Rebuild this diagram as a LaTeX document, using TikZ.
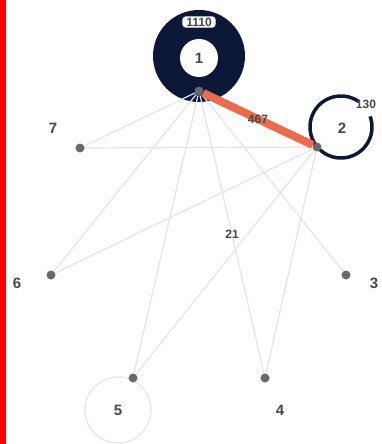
\documentclass[tikz,border=0pt]{standalone}
\usepackage{fontspec}
\setmainfont{Liberation Sans}
\usetikzlibrary{positioning, backgrounds}
\definecolor{RingNavy}{RGB}{12,24,56}
\definecolor{EdgeOrange}{RGB}{238,106,76}
\definecolor{EdgeGrey}{RGB}{228,228,228}
\definecolor{DotGrey}{RGB}{105,105,105}
\definecolor{LabelGrey}{RGB}{70,70,70}

\begin{document}
\begin{tikzpicture}[x=1pt, y=-1pt, font=\bfseries\fontsize{15}{17}\selectfont,
    dot/.style={circle, fill=DotGrey, inner sep=0pt, minimum size=9pt},
    lbl/.style={text=LabelGrey, inner sep=1pt},
    wlbl/.style={text=LabelGrey, font=\bfseries\fontsize{12}{14}\selectfont, inner sep=1pt},
    edge/.style={EdgeGrey, line width=1.2pt}]
    \useasboundingbox (0,0) rectangle (381,444);
    \fill[red] (0,0) rectangle (6,444);

    % --- Nodes ---
    \node[dot] (n1) at (199,91) {};
    \node[dot] (n2) at (317,147) {};
    \node[dot] (n3) at (346,275) {};
    \node[dot] (n4) at (265,378) {};
    \node[dot] (n5) at (133,378) {};
    \node[dot] (n6) at (51,275) {};
    \node[dot] (n7) at (80,148) {};

    % --- Labels ---
    \node[lbl, circle, fill=white, minimum size=38pt] (l1) at (199,58) {1};
    \node[lbl] (l2) at (342,128) {2};
    \node[lbl] (l3) at (374,283) {3};
    \node[lbl] (l4) at (280,410) {4};
    \node[lbl] (l5) at (118,410) {5};
    \node[lbl] (l6) at (17,283) {6};
    \node[lbl] (l7) at (53,128) {7};
    \node[wlbl, draw=gray!60, fill=white, rounded corners=4pt, inner xsep=4pt, inner ysep=1.5pt] (w1) at (199,22) {1110};
    \node[wlbl] (w2) at (366,104) {130};

    \begin{scope}[on background layer]
        % --- Rings ---
        \fill[RingNavy] (199,56) circle (46);
        \draw[RingNavy, line width=3.5pt] (341,127) ++(-20:31) arc[start angle=-20, end angle=305, radius=31];
        \draw[EdgeGrey!80, line width=1.5pt] (118,410) circle (33);

        % --- Edges ---
        \draw[edge] (n1) -- (n7);
        \draw[edge] (n7) -- (n2);
        \draw[edge] (n1) -- (n6);
        \draw[edge] (n6) -- (n2);
        \draw[edge] (n1) -- (n5);
        \draw[edge] (n1) -- node[wlbl] (w14) {21} (n4);
        \draw[edge] (n1) -- (n3);
        \draw[edge] (n2) -- (n5);
        \draw[edge] (n2) -- (n4);
        \draw[EdgeOrange, line width=8pt] (n1) -- node[wlbl] (w12) {467} (n2);
    \end{scope}
\end{tikzpicture}
\end{document}
